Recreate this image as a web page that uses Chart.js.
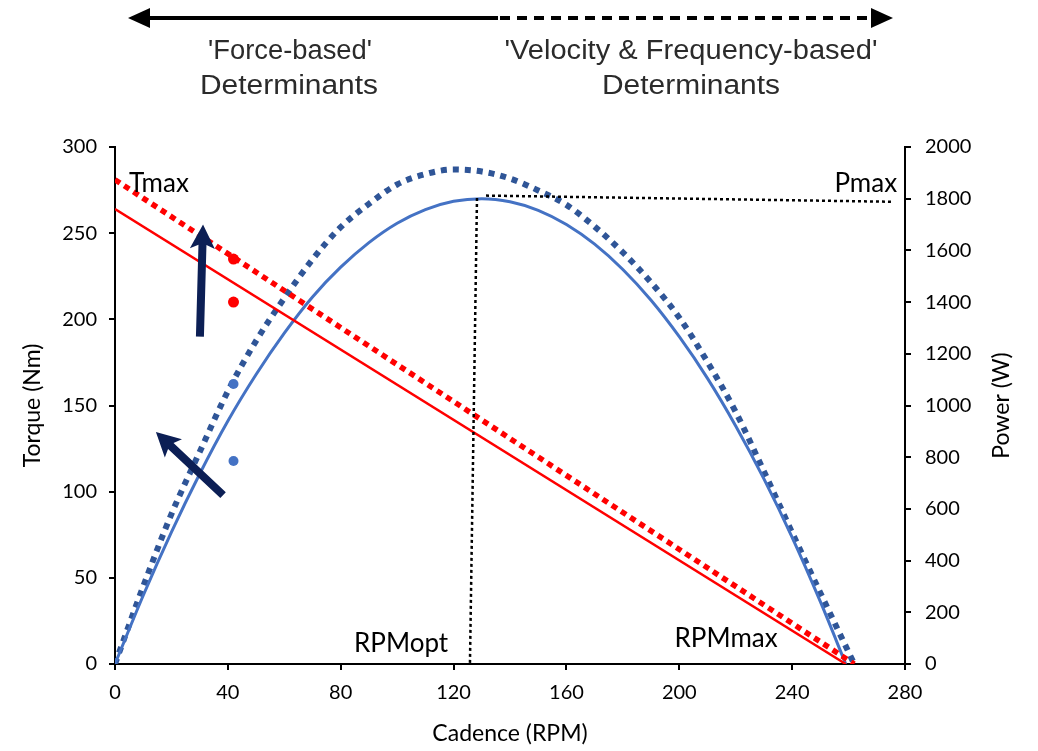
<!DOCTYPE html>
<html lang="en">
<head>
  <meta charset="UTF-8">
  <title>Torque and Power vs Cadence</title>
  <script src="https://cdn.jsdelivr.net/npm/chart.js"></script>
  <style>
    html, body { margin: 0; padding: 0; background: #fff; }
    #wrap { width: 1038px; height: 751px; position: relative; }
  </style>
</head>
<body>
  <div id="wrap"><canvas id="chart"></canvas></div>

  <script>
    // Power curves (W), every 10 RPM
    const fitCadence = [0, 10, 20, 30, 40, 50, 60, 70, 80, 90, 100, 110, 120, 130, 140, 150, 160, 170, 180, 190, 200, 210, 220, 230, 240, 250, 259];
    const powerFit   = [0, 265, 510, 735, 940, 1120, 1280, 1420, 1535, 1630, 1705, 1758, 1790, 1800, 1788, 1755, 1700, 1624, 1526, 1407, 1266, 1105, 921, 716, 490, 241, 0];
    const prevCadence = [0, 10, 20, 30, 40, 50, 60, 70, 80, 90, 100, 110, 120, 130, 140, 150, 160, 170, 180, 190, 200, 210, 220, 230, 240, 250, 262];
    const powerPrev   = [0, 300, 580, 820, 1055, 1250, 1415, 1565, 1690, 1780, 1855, 1895, 1913, 1905, 1878, 1832, 1776, 1692, 1592, 1476, 1340, 1168, 975, 745, 508, 275, 0];

    // Torque lines (Nm): end points
    const torqueFitCadence = [0, 259];
    const torqueFit = [264, 0];
    const torquePrevCadence = [0, 262];
    const torquePrev = [281, 0];

    // Measured points
    const measCadence = [42, 42];
    const torqueMeas = [235, 210];
    const powerMeas = [1083, 785];

    // Reference lines for Pmax / RPMopt (power axis)
    const pmaxCadence = [131.5, 276];
    const pmaxPower = [1812, 1788];
    const optCadence = [128.3, 125.8];
    const optPower = [1803, 0];

    const pts = (xs, ys) => xs.map((x, i) => ({ x: x, y: ys[i] }));

    const FAMILY = 'Lato, "Noto Sans", sans-serif';
    const TICK_FONT = { family: FAMILY, size: 20 };
    const TITLE_FONT = { family: FAMILY, size: 23 };

    function drawArrow(ctx, x0, y0, x1, y1, shaft, headLen, headW) {
      const len = Math.hypot(x1 - x0, y1 - y0);
      ctx.save();
      ctx.translate(x1, y1);
      ctx.rotate(Math.atan2(y1 - y0, x1 - x0));
      ctx.beginPath();
      ctx.moveTo(0, 0);
      ctx.lineTo(-headLen, -headW / 2);
      ctx.lineTo(-headLen * 0.85, -shaft / 2);
      ctx.lineTo(-len, -shaft / 2);
      ctx.lineTo(-len, shaft / 2);
      ctx.lineTo(-headLen * 0.85, shaft / 2);
      ctx.lineTo(-headLen, headW / 2);
      ctx.closePath();
      ctx.fill();
      ctx.restore();
    }

    // text stretched to a given width (header copy is a bit wide in the original)
    function fitText(ctx, text, cx, cy, width) {
      const w = ctx.measureText(text).width;
      ctx.save();
      ctx.translate(cx, cy);
      ctx.scale(width / w, 1);
      ctx.fillText(text, 0, 0);
      ctx.restore();
    }

    // arrows and labels drawn in data units
    const arrows = [
      { from: [30.1, 190], to: [31.2, 255] },
      { from: [38.3, 98], to: [14.5, 134.6] }
    ];
    const labels = [
      { text: 'Tmax', at: [5, 279], align: 'left' },
      { text: 'Pmax', at: [277.2, 279], align: 'right' },
      { text: 'RPMopt', at: [101.4, 12], align: 'center' },
      { text: 'RPMmax', at: [216.6, 15], align: 'center' }
    ];

    const decorations = {
      id: 'decorations',
      afterDraw(chart) {
        const { ctx, scales: { x, y } } = chart;
        ctx.save();

        // arrows over the plot
        ctx.fillStyle = '#0C1F55';
        arrows.forEach(a => {
          drawArrow(ctx,
            x.getPixelForValue(a.from[0]), y.getPixelForValue(a.from[1]),
            x.getPixelForValue(a.to[0]), y.getPixelForValue(a.to[1]),
            8, 24, 25);
        });

        // text labels inside the plot
        ctx.fillStyle = '#000';
        ctx.font = '26px ' + FAMILY;
        ctx.textBaseline = 'middle';
        labels.forEach(l => {
          ctx.textAlign = l.align;
          ctx.fillText(l.text, x.getPixelForValue(l.at[0]), y.getPixelForValue(l.at[1]));
        });

        // right axis title, reading bottom to top
        const y1 = chart.scales.y1;
        ctx.save();
        ctx.translate(1002, (y1.top + y1.bottom) / 2);
        ctx.rotate(-Math.PI / 2);
        ctx.textAlign = 'center';
        ctx.font = '23px ' + FAMILY;
        ctx.fillText('Power (W)', 0, 0);
        ctx.restore();

        // header: double arrow, solid then dashed
        ctx.strokeStyle = '#000';
        ctx.fillStyle = '#000';
        ctx.lineWidth = 4;
        ctx.beginPath();
        ctx.moveTo(145, 18);
        ctx.lineTo(498, 18);
        ctx.stroke();
        ctx.setLineDash([10, 7]);
        ctx.beginPath();
        ctx.moveTo(500, 18);
        ctx.lineTo(876, 18);
        ctx.stroke();
        ctx.setLineDash([]);
        ctx.beginPath();
        ctx.moveTo(128, 18); ctx.lineTo(150, 8); ctx.lineTo(150, 28); ctx.closePath();
        ctx.fill();
        ctx.beginPath();
        ctx.moveTo(893, 18); ctx.lineTo(871, 8); ctx.lineTo(871, 28); ctx.closePath();
        ctx.fill();

        ctx.fillStyle = '#2b2b2b';
        ctx.font = '27px "Liberation Sans", Arial, sans-serif';
        ctx.textAlign = 'center';
        fitText(ctx, "'Force-based'", 290, 52, 164);
        fitText(ctx, 'Determinants', 289, 87, 178);
        fitText(ctx, "'Velocity & Frequency-based'", 691, 52, 373);
        fitText(ctx, 'Determinants', 691, 87, 178);

        ctx.restore();
      }
    };

    Chart.defaults.color = '#000';

    const plainTick = v => String(v);

    new Chart(document.getElementById('chart'), {
      type: 'scatter',
      data: {
        datasets: [
          {
            label: 'Torque (measured)',
            data: pts(measCadence, torqueMeas),
            yAxisID: 'y',
            backgroundColor: '#FF0000',
            borderWidth: 0,
            pointRadius: 5.5
          },
          {
            label: 'Power (measured)',
            data: pts(measCadence, powerMeas),
            yAxisID: 'y1',
            backgroundColor: '#4472C4',
            borderWidth: 0,
            pointRadius: 5
          },
          {
            label: 'Pmax',
            data: pts(pmaxCadence, pmaxPower),
            yAxisID: 'y1',
            showLine: true,
            borderColor: '#000',
            borderWidth: 2.5,
            borderDash: [3, 3],
            pointRadius: 0
          },
          {
            label: 'RPMopt',
            data: pts(optCadence, optPower),
            yAxisID: 'y1',
            showLine: true,
            borderColor: '#000',
            borderWidth: 2.5,
            borderDash: [3, 3],
            pointRadius: 0
          },
          {
            label: 'Torque',
            data: pts(torqueFitCadence, torqueFit),
            yAxisID: 'y',
            showLine: true,
            borderColor: '#FF0000',
            borderWidth: 2.5,
            pointRadius: 0
          },
          {
            label: 'Torque (before)',
            data: pts(torquePrevCadence, torquePrev),
            yAxisID: 'y',
            showLine: true,
            borderColor: '#FF0000',
            borderWidth: 5.5,
            borderDash: [6, 5],
            pointRadius: 0
          },
          {
            label: 'Power',
            data: pts(fitCadence, powerFit),
            yAxisID: 'y1',
            showLine: true,
            borderColor: '#4472C4',
            borderWidth: 3,
            cubicInterpolationMode: 'monotone',
            pointRadius: 0
          },
          {
            label: 'Power (before)',
            data: pts(prevCadence, powerPrev),
            yAxisID: 'y1',
            showLine: true,
            borderColor: '#2F5597',
            borderWidth: 6,
            borderDash: [6, 6],
            cubicInterpolationMode: 'monotone',
            pointRadius: 0
          }
        ]
      },
      options: {
        responsive: true,
        maintainAspectRatio: false,
        animation: false,
        layout: { padding: { top: 147, left: 0, right: 0, bottom: 0 } },
        plugins: {
          legend: { display: false },
          tooltip: { enabled: false }
        },
        scales: {
          x: {
            type: 'linear',
            position: 'bottom',
            min: 0,
            max: 280,
            afterFit: s => { s.height = 87; },
            ticks: { stepSize: 40, font: TICK_FONT, padding: 11, color: '#000', callback: plainTick },
            grid: { drawOnChartArea: false, drawTicks: true, tickLength: 6, color: '#000', lineWidth: 2 },
            border: { color: '#000', width: 2 },
            title: { display: true, text: 'Cadence (RPM)', font: TITLE_FONT, padding: { top: 4, bottom: 4 } }
          },
          y: {
            position: 'left',
            min: 0,
            max: 300,
            afterFit: s => { s.width = 115; },
            ticks: { stepSize: 50, font: TICK_FONT, padding: 12, color: '#000', callback: plainTick },
            grid: { drawOnChartArea: false, drawTicks: true, tickLength: 6, color: '#000', lineWidth: 2 },
            border: { color: '#000', width: 2 },
            title: { display: true, text: 'Torque (Nm)', font: TITLE_FONT, padding: { top: 19, bottom: 4 } }
          },
          y1: {
            position: 'right',
            min: 0,
            max: 2000,
            afterFit: s => { s.width = 133; },
            ticks: { stepSize: 200, font: TICK_FONT, padding: 14, color: '#000', callback: plainTick },
            grid: { drawOnChartArea: false, drawTicks: true, tickLength: 6, color: '#000', lineWidth: 2 },
            border: { color: '#000', width: 2 }
          }
        }
      },
      plugins: [decorations]
    });
  </script>
</body>
</html>
